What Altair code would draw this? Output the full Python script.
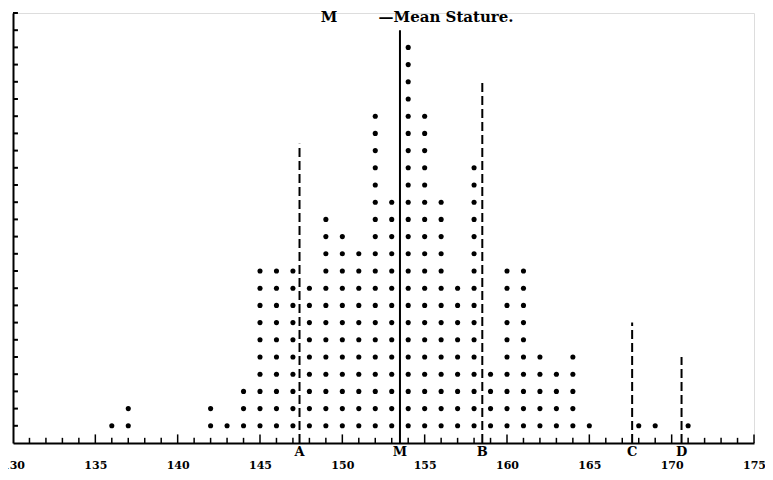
import altair as alt
import pandas as pd

# Stature (cm) columns and number of individuals (dots) in each
statures = [136, 137, 142, 143, 144, 145, 146, 147, 148, 149, 150, 151, 152, 153,
            154, 155, 156, 157, 158, 159, 160, 161, 162, 163, 164, 165, 168, 169, 171]
counts = [1, 2, 2, 1, 3, 10, 10, 10, 9, 13, 12, 11, 19, 14,
          23, 19, 14, 9, 16, 4, 10, 10, 5, 4, 5, 1, 1, 1, 1]

# Reference lines A, M (mean stature), B, C, D
ref_names = ["A", "M", "B", "C", "D"]
ref_pos = [147.4, 153.5, 158.5, 167.6, 170.6]
ref_heights = [17.4, 24.0, 21.0, 7.0, 5.0]
ref_dashed = [True, False, True, True, True]

x_labels = list(range(130, 176, 5))
x_minor = list(range(131, 176))
y_minor = list(range(1, 26))

FONT = "DejaVu Serif"

dots = pd.DataFrame(
    [{"stature": s, "n": k} for s, c in zip(statures, counts) for k in range(1, c + 1)]
)
refs = pd.DataFrame({"name": ref_names, "pos": ref_pos, "top": ref_heights,
                     "dashed": ref_dashed, "base": 0.0})
xt = pd.DataFrame({"t": x_minor, "base": 0.0,
                   "h": [0.5 if v % 5 == 0 else 0.3 for v in x_minor]})
yt = pd.DataFrame({"v": y_minor, "x0": 130.0, "x1": 130.3})
ttl = pd.DataFrame({"x": [149.2, 152.2], "y": [24.45, 24.45],
                    "label": ["M", "\u2014Mean Stature."], "al": ["center", "left"]})

xs = alt.Scale(domain=[130, 175], nice=False, zero=False)
ys = alt.Scale(domain=[0, 25], nice=False)

xaxis = alt.Axis(values=x_labels, title=None, ticks=False, grid=False,
                 labelFont=FONT, labelFontWeight="bold", labelFontSize=11,
                 labelPadding=16, labelFlush=False, labelColor="black",
                 domainColor="black", domainWidth=2)
yaxis = alt.Axis(title=None, ticks=False, labels=False, grid=False,
                 domainColor="black", domainWidth=2)

points = alt.Chart(dots).mark_circle(color="black", size=26, opacity=1).encode(
    x=alt.X("stature:Q", scale=xs, axis=xaxis),
    y=alt.Y("n:Q", scale=ys, axis=yaxis),
)

xticks = alt.Chart(xt).mark_rule(color="black", strokeWidth=1.5).encode(
    x=alt.X("t:Q", scale=xs), y=alt.Y("base:Q", scale=ys), y2="h:Q"
)
yticks = alt.Chart(yt).mark_rule(color="black", strokeWidth=2).encode(
    y=alt.Y("v:Q", scale=ys), x=alt.X("x0:Q", scale=xs), x2="x1:Q"
)

solid = alt.Chart(refs).transform_filter("!datum.dashed").mark_rule(
    color="black", strokeWidth=2
).encode(x=alt.X("pos:Q", scale=xs), y=alt.Y("base:Q", scale=ys), y2="top:Q")

dashed = alt.Chart(refs).transform_filter("datum.dashed").mark_rule(
    color="black", strokeWidth=2, strokeDash=[9, 4]
).encode(x=alt.X("pos:Q", scale=xs), y=alt.Y("base:Q", scale=ys), y2="top:Q")

letters = alt.Chart(refs).mark_text(
    baseline="top", dy=3, font=FONT, fontWeight="bold", fontSize=13, color="black"
).encode(x=alt.X("pos:Q", scale=xs), y=alt.Y("base:Q", scale=ys), text="name:N")

title_m = alt.Chart(ttl).transform_filter("datum.al == 'center'").mark_text(
    font=FONT, fontWeight="bold", fontSize=15, color="black", baseline="alphabetic", align="center"
).encode(x=alt.X("x:Q", scale=xs), y=alt.Y("y:Q", scale=ys), text="label:N")
title_t = alt.Chart(ttl).transform_filter("datum.al == 'left'").mark_text(
    font=FONT, fontWeight="bold", fontSize=15, color="black", baseline="alphabetic", align="left"
).encode(x=alt.X("x:Q", scale=xs), y=alt.Y("y:Q", scale=ys), text="label:N")

chart = alt.layer(points, xticks, yticks, solid, dashed, letters, title_m, title_t).properties(
    width=741, height=430,
    autosize=alt.AutoSizeParams(type="none"),
    padding={"left": 5, "top": 5, "right": 11, "bottom": 28},
).configure_view(strokeWidth=0, stroke="transparent").configure(background="white")

chart.save("out.html", embed_options={"renderer": "svg", "actions": False})
